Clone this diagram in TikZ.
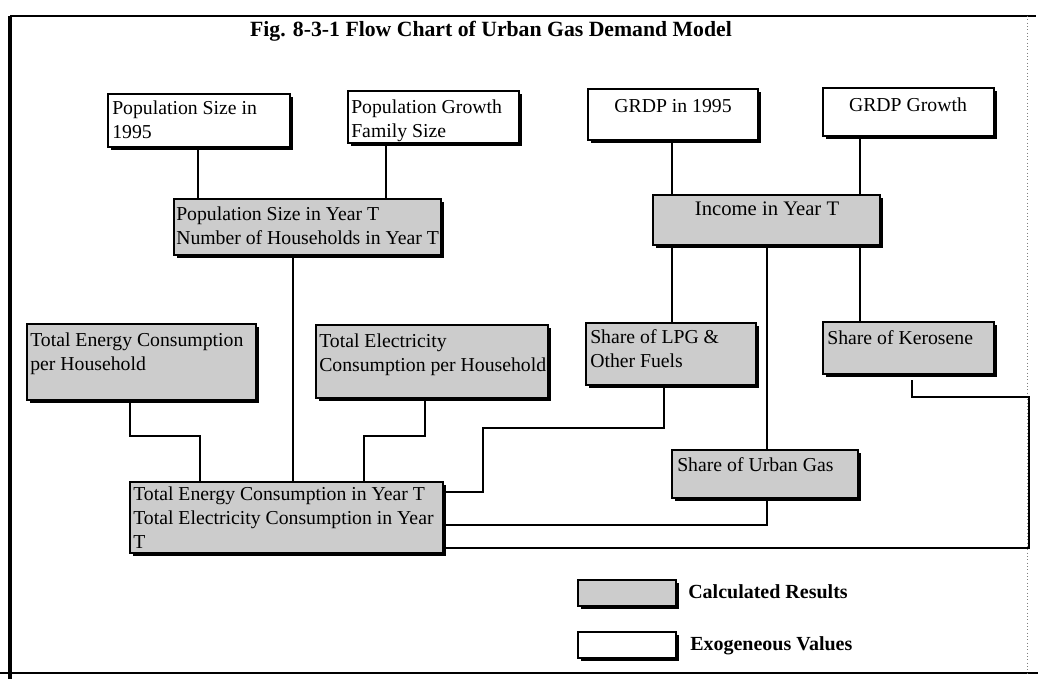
\documentclass[tikz,border=0pt]{standalone}
\usepackage{fontspec}
\setmainfont{Liberation Serif}
\usetikzlibrary{fit,shadows}
\begin{document}
\begin{tikzpicture}[x=0.75pt,y=-0.75pt,
  exobox/.style={draw=black, line width=0.8pt, fill=white, inner sep=0pt,
     drop shadow={shadow xshift=2.2pt, shadow yshift=-2.2pt, fill=black, opacity=1}},
  calcbox/.style={exobox, fill=black!20},
  lbl/.style={anchor=north west, inner sep=0pt, align=left, font=\fontsize{14.8}{18}\selectfont},
  clbl/.style={anchor=north, inner sep=0pt, align=center, font=\fontsize{14.8}{18}\selectfont},
  conn/.style={line width=1.2pt},
  frame/.style={line width=1.2pt},
]
\useasboundingbox (0,0) rectangle (1038,683);
% frame
\draw[line width=2.6pt] (10,16) -- (10,679);
\draw[frame] (10,16) -- (1036,16);
\draw[frame] (0,673) -- (1038,673);
\draw[black!50, line width=0.5pt, dotted] (1027,16) -- (1027,673);
% title
\node[anchor=base, inner sep=0pt, font=\bfseries\fontsize{16.3}{19}\selectfont] (title) at (491,36) {Fig. 8-3-1 Flow Chart of Urban Gas Demand Model};
% boxes
\node[exobox, fit={(108,94) (290,147)}] (b1) {};
\node[exobox, fit={(348,91) (519,143)}] (b2) {};
\node[exobox, fit={(588,89) (758,140)}] (b3) {};
\node[exobox, fit={(823,88) (994,136)}] (b4) {};
\node[calcbox, fit={(174,199) (441,255)}] (b5) {};
\node[calcbox, fit={(653,195) (880,245)}] (b6) {};
\node[calcbox, fit={(27,324) (256,400)}] (b7) {};
\node[calcbox, fit={(316,325) (548,398)}] (b8) {};
\node[calcbox, fit={(586,323) (756,385)}] (b9) {};
\node[calcbox, fit={(823,322) (994,374)}] (b10) {};
\node[calcbox, fit={(130,482) (443,553)}] (b11) {};
\node[calcbox, fit={(672,450) (858,498)}] (b12) {};
\node[calcbox, fit={(578,580) (676,606)}] (lg1) {};
\node[exobox, fit={(578,632) (676,658)}] (lg2) {};
% texts
\node[lbl] (t1) at (112,101) {Population Size in\\1995};
\node[lbl] (t2) at (351,100) {Population Growth\\Family Size};
\node[clbl] (t3) at (673,99) {GRDP in 1995};
\node[clbl] (t4) at (908,98) {GRDP Growth};
\node[lbl] (t5) at (176,207) {Population Size in Year T\\Number of Households in Year T};
\node[clbl, font=\fontsize{15.5}{18}\selectfont] (t6) at (767,202) {Income in Year T};
\node[lbl] (t7) at (30,333) {Total Energy Consumption\\per Household};
\node[lbl] (t8) at (319,334) {Total Electricity\\Consumption per Household};
\node[lbl] (t9) at (590,329) {Share of LPG \&\\Other Fuels};
\node[lbl] (t10) at (827,330) {Share of Kerosene};
\node[lbl] (t11) at (133,487) {Total Energy Consumption in Year T\\Total Electricity Consumption in Year\\T};
\node[lbl] (t12) at (677,457) {Share of Urban Gas};
\node[anchor=base west, inner sep=0pt, font=\bfseries\fontsize{15}{18}\selectfont] (lt1) at (688,598) {Calculated Results};
\node[anchor=base west, inner sep=0pt, font=\bfseries\fontsize{15}{18}\selectfont] (lt2) at (690,650) {Exogeneous Values};
% helper coordinates
\coordinate (X198) at (198,0);
\coordinate (X386) at (386,0);
\coordinate (X672) at (672,0);
\coordinate (X860) at (860,0);
\coordinate (X767) at (767,0);
\coordinate (X293) at (293,0);
\coordinate (X130) at (130,0);
\coordinate (X425) at (425,0);
\coordinate (X664) at (664,0);
\coordinate (X912) at (912,0);
\coordinate (Y492) at (0,492);
\coordinate (Y525) at (0,525);
\coordinate (Y548) at (0,548);
\coordinate (J1) at (200,436);
\coordinate (J2) at (364,436);
\coordinate (J3) at (483,428);
\coordinate (J4) at (1029,397);
\coordinate (K10) at (912,380);
% connectors
\draw[conn] (b1.south -| X198) -- (X198 |- b5.north);
\draw[conn] (b2.south -| X386) -- (X386 |- b5.north);
\draw[conn] (b3.south -| X672) -- (X672 |- b6.north);
\draw[conn] (b4.south -| X860) -- (X860 |- b6.north);
\draw[conn] (b6.south -| X672) -- (X672 |- b9.north);
\draw[conn] (b6.south -| X767) -- (X767 |- b12.north);
\draw[conn] (b6.south -| X860) -- (X860 |- b10.north);
\draw[conn] (b5.south -| X293) -- (X293 |- b11.north);
\draw[conn] (b7.south -| X130) |- (J1) -- (J1 |- b11.north);
\draw[conn] (b8.south -| X425) |- (J2) -- (J2 |- b11.north);
\draw[conn] (b9.south -| X664) |- (J3) |- (b11.east |- Y492);
\draw[conn] (b12.south -| X767) |- (b11.east |- Y525);
\draw[conn] (K10) |- (J4) |- (b11.east |- Y548);
\end{tikzpicture}
\end{document}
